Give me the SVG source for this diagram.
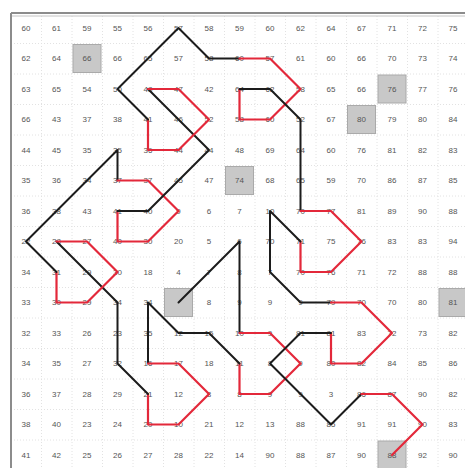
<svg xmlns="http://www.w3.org/2000/svg" width="465" height="468" viewBox="0 0 465 468">
<style>
.n{font-family:"Liberation Sans",Arial,sans-serif;font-size:8px;fill:#555;text-anchor:middle;dominant-baseline:central}
.g{stroke:#e2e2e2;stroke-width:1;stroke-dasharray:1 2;fill:none}
.sh{fill:#c8c8c8;stroke:#aaa;stroke-width:1}
.b{fill:none;stroke:#1c1c1c;stroke-width:2;stroke-linejoin:round;stroke-linecap:round}
.r{fill:none;stroke:#e3283a;stroke-width:2.2;stroke-linejoin:round;stroke-linecap:round}
</style>
<rect width="465" height="468" fill="#fff"/>
<g id="grid">
<path class="g" d="M41.5 13V468M72 13V468M102.5 13V468M133 13V468M163.5 13V468M194 13V468M224.5 13V468M255 13V468M285.5 13V468M316 13V468M346.5 13V468M377 13V468M407.5 13V468M438 13V468M11 43.5H465M11 74H465M11 104.5H465M11 135H465M11 165.5H465M11 196H465M11 226.5H465M11 257H465M11 287.5H465M11 318H465M11 348.5H465M11 379H465M11 409.5H465M11 440H465"/>
<path d="M11 13V468M11 13H465" fill="none" stroke="#8c8c8c" stroke-width="2"/>
<path d="M12 16H465" fill="none" stroke="#c4c4c4" stroke-width="1"/>
</g>
<g id="shaded">
<rect class="sh" x="73" y="44.5" width="28" height="28"/>
<rect class="sh" x="378" y="75" width="28" height="28"/>
<rect class="sh" x="347.5" y="105.5" width="28" height="28"/>
<rect class="sh" x="225.5" y="166.5" width="28" height="28"/>
<rect class="sh" x="164.5" y="288.5" width="28" height="28" stroke="#888"/>
<rect class="sh" x="439" y="288.5" width="28" height="28"/>
<rect class="sh" x="378" y="441" width="28" height="28"/>
</g>
<g id="numbers" class="n">
<text x="26" y="28">60</text><text x="56.5" y="28">61</text><text x="87" y="28">59</text><text x="117.5" y="28">55</text><text x="148" y="28">56</text><text x="178.5" y="28">57</text><text x="209" y="28">58</text><text x="239.5" y="28">59</text><text x="270" y="28">60</text><text x="300.5" y="28">62</text><text x="331" y="28">64</text><text x="361.5" y="28">67</text><text x="392" y="28">71</text><text x="422.5" y="28">72</text><text x="453" y="28">75</text>
<text x="26" y="58.5">62</text><text x="56.5" y="58.5">64</text><text x="87" y="58.5">66</text><text x="117.5" y="58.5">66</text><text x="148" y="58.5">65</text><text x="178.5" y="58.5">57</text><text x="209" y="58.5">58</text><text x="239.5" y="58.5">60</text><text x="270" y="58.5">57</text><text x="300.5" y="58.5">61</text><text x="331" y="58.5">60</text><text x="361.5" y="58.5">66</text><text x="392" y="58.5">70</text><text x="422.5" y="58.5">73</text><text x="453" y="58.5">74</text>
<text x="26" y="89">63</text><text x="56.5" y="89">65</text><text x="87" y="89">54</text><text x="117.5" y="89">50</text><text x="148" y="89">48</text><text x="178.5" y="89">47</text><text x="209" y="89">42</text><text x="239.5" y="89">64</text><text x="270" y="89">62</text><text x="300.5" y="89">58</text><text x="331" y="89">65</text><text x="361.5" y="89">66</text><text x="392" y="89">76</text><text x="422.5" y="89">77</text><text x="453" y="89">76</text>
<text x="26" y="119.5">66</text><text x="56.5" y="119.5">43</text><text x="87" y="119.5">37</text><text x="117.5" y="119.5">38</text><text x="148" y="119.5">41</text><text x="178.5" y="119.5">46</text><text x="209" y="119.5">52</text><text x="239.5" y="119.5">58</text><text x="270" y="119.5">60</text><text x="300.5" y="119.5">52</text><text x="331" y="119.5">67</text><text x="361.5" y="119.5">80</text><text x="392" y="119.5">79</text><text x="422.5" y="119.5">80</text><text x="453" y="119.5">84</text>
<text x="26" y="150">44</text><text x="56.5" y="150">45</text><text x="87" y="150">35</text><text x="117.5" y="150">35</text><text x="148" y="150">36</text><text x="178.5" y="150">44</text><text x="209" y="150">44</text><text x="239.5" y="150">48</text><text x="270" y="150">69</text><text x="300.5" y="150">64</text><text x="331" y="150">60</text><text x="361.5" y="150">76</text><text x="392" y="150">81</text><text x="422.5" y="150">82</text><text x="453" y="150">83</text>
<text x="26" y="180.5">35</text><text x="56.5" y="180.5">36</text><text x="87" y="180.5">34</text><text x="117.5" y="180.5">37</text><text x="148" y="180.5">37</text><text x="178.5" y="180.5">45</text><text x="209" y="180.5">47</text><text x="239.5" y="180.5">74</text><text x="270" y="180.5">68</text><text x="300.5" y="180.5">65</text><text x="331" y="180.5">59</text><text x="361.5" y="180.5">70</text><text x="392" y="180.5">86</text><text x="422.5" y="180.5">87</text><text x="453" y="180.5">85</text>
<text x="26" y="211">36</text><text x="56.5" y="211">38</text><text x="87" y="211">43</text><text x="117.5" y="211">41</text><text x="148" y="211">40</text><text x="178.5" y="211">9</text><text x="209" y="211">6</text><text x="239.5" y="211">7</text><text x="270" y="211">10</text><text x="300.5" y="211">70</text><text x="331" y="211">77</text><text x="361.5" y="211">81</text><text x="392" y="211">89</text><text x="422.5" y="211">90</text><text x="453" y="211">88</text>
<text x="26" y="241.5">22</text><text x="56.5" y="241.5">28</text><text x="87" y="241.5">27</text><text x="117.5" y="241.5">40</text><text x="148" y="241.5">30</text><text x="178.5" y="241.5">20</text><text x="209" y="241.5">5</text><text x="239.5" y="241.5">6</text><text x="270" y="241.5">70</text><text x="300.5" y="241.5">71</text><text x="331" y="241.5">75</text><text x="361.5" y="241.5">76</text><text x="392" y="241.5">83</text><text x="422.5" y="241.5">83</text><text x="453" y="241.5">94</text>
<text x="26" y="272">34</text><text x="56.5" y="272">31</text><text x="87" y="272">29</text><text x="117.5" y="272">30</text><text x="148" y="272">18</text><text x="178.5" y="272">4</text><text x="209" y="272">7</text><text x="239.5" y="272">8</text><text x="270" y="272">7</text><text x="300.5" y="272">70</text><text x="331" y="272">76</text><text x="361.5" y="272">71</text><text x="392" y="272">72</text><text x="422.5" y="272">88</text><text x="453" y="272">88</text>
<text x="26" y="302.5">33</text><text x="56.5" y="302.5">30</text><text x="87" y="302.5">29</text><text x="117.5" y="302.5">34</text><text x="148" y="302.5">34</text><text x="209" y="302.5">8</text><text x="239.5" y="302.5">9</text><text x="270" y="302.5">9</text><text x="300.5" y="302.5">9</text><text x="331" y="302.5">79</text><text x="361.5" y="302.5">70</text><text x="392" y="302.5">70</text><text x="422.5" y="302.5">80</text><text x="453" y="302.5">81</text>
<text x="26" y="333">32</text><text x="56.5" y="333">33</text><text x="87" y="333">26</text><text x="117.5" y="333">23</text><text x="148" y="333">35</text><text x="178.5" y="333">12</text><text x="209" y="333">15</text><text x="239.5" y="333">10</text><text x="270" y="333">9</text><text x="300.5" y="333">81</text><text x="331" y="333">81</text><text x="361.5" y="333">83</text><text x="392" y="333">72</text><text x="422.5" y="333">73</text><text x="453" y="333">82</text>
<text x="26" y="363.5">34</text><text x="56.5" y="363.5">35</text><text x="87" y="363.5">27</text><text x="117.5" y="363.5">32</text><text x="148" y="363.5">16</text><text x="178.5" y="363.5">17</text><text x="209" y="363.5">18</text><text x="239.5" y="363.5">11</text><text x="270" y="363.5">8</text><text x="300.5" y="363.5">9</text><text x="331" y="363.5">80</text><text x="361.5" y="363.5">82</text><text x="392" y="363.5">84</text><text x="422.5" y="363.5">85</text><text x="453" y="363.5">86</text>
<text x="26" y="394">36</text><text x="56.5" y="394">37</text><text x="87" y="394">28</text><text x="117.5" y="394">29</text><text x="148" y="394">21</text><text x="178.5" y="394">12</text><text x="209" y="394">8</text><text x="239.5" y="394">8</text><text x="270" y="394">9</text><text x="300.5" y="394">9</text><text x="331" y="394">3</text><text x="361.5" y="394">86</text><text x="392" y="394">87</text><text x="422.5" y="394">90</text><text x="453" y="394">82</text>
<text x="26" y="424.5">38</text><text x="56.5" y="424.5">40</text><text x="87" y="424.5">23</text><text x="117.5" y="424.5">24</text><text x="148" y="424.5">20</text><text x="178.5" y="424.5">10</text><text x="209" y="424.5">21</text><text x="239.5" y="424.5">12</text><text x="270" y="424.5">13</text><text x="300.5" y="424.5">88</text><text x="331" y="424.5">85</text><text x="361.5" y="424.5">91</text><text x="392" y="424.5">91</text><text x="422.5" y="424.5">90</text><text x="453" y="424.5">83</text>
<text x="26" y="455">41</text><text x="56.5" y="455">42</text><text x="87" y="455">25</text><text x="117.5" y="455">26</text><text x="148" y="455">27</text><text x="178.5" y="455">28</text><text x="209" y="455">22</text><text x="239.5" y="455">14</text><text x="270" y="455">90</text><text x="300.5" y="455">88</text><text x="331" y="455">87</text><text x="361.5" y="455">90</text><text x="392" y="455">88</text><text x="422.5" y="455">92</text><text x="453" y="455">90</text>
</g>
<g id="connectors">
<polyline class="b" points="178.5,302.5 239.5,241.5 239.5,333"/>
<polyline class="r" points="239.5,333 270,333 300.5,363.5 270,394 239.5,394 239.5,363.5"/>
<polyline class="b" points="239.5,363.5 209,333 178.5,333 148,302.5 148,363.5"/>
<polyline class="r" points="148,363.5 178.5,363.5 209,394 178.5,424.5 148,424.5 148,394"/>
<polyline class="b" points="148,394 117.5,363.5 117.5,302.5 56.5,241.5"/>
<polyline class="r" points="56.5,241.5 87,241.5 117.5,272 87,302.5 56.5,302.5 56.5,272"/>
<polyline class="b" points="56.5,272 26,241.5 117.5,150 117.5,180.5"/>
<polyline class="r" points="117.5,180.5 148,180.5 178.5,211 148,241.5 117.5,241.5 117.5,211"/>
<polyline class="b" points="117.5,211 148,211 209,150 148,89"/>
<polyline class="r" points="148,89 178.5,89 209,119.5 178.5,150 148,150 148,119.5"/>
<polyline class="b" points="148,119.5 117.5,89 178.5,28 209,58.5 239.5,58.5"/>
<polyline class="r" points="239.5,58.5 270,58.5 300.5,89 270,119.5 239.5,119.5 239.5,89"/>
<polyline class="b" points="239.5,89 270,89 300.5,119.5 300.5,211"/>
<polyline class="r" points="300.5,211 331,211 361.5,241.5 331,272 300.5,272 300.5,241.5"/>
<polyline class="b" points="300.5,241.5 270,211 270,272 300.5,302.5 331,302.5"/>
<polyline class="r" points="331,302.5 361.5,302.5 392,333 361.5,363.5 331,363.5 331,333"/>
<polyline class="b" points="331,333 300.5,333 270,363.5 331,424.5 361.5,394"/>
<polyline class="r" points="361.5,394 392,394 422.5,424.5 392,455"/>
</g>
</svg>
